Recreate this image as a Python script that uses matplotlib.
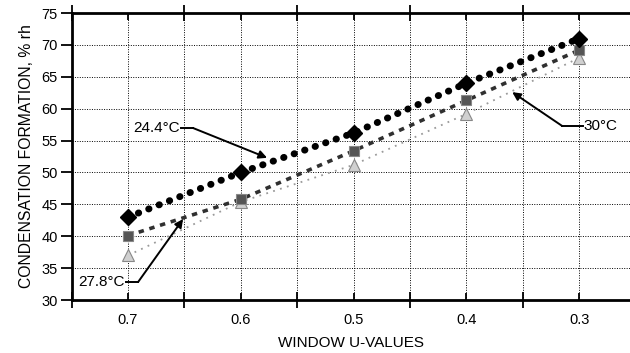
import matplotlib
matplotlib.use("Agg")
import matplotlib.pyplot as plt
import numpy as np

plt.rcParams['font.family'] = ['Liberation Sans', 'DejaVu Sans']

categories = ["0.7", "0.6", "0.5", "0.4", "0.3"]
s_244 = [43, 50, 56.2, 64, 71]
s_278 = [40.1, 45.8, 53.4, 61.3, 69.2]
s_30 = [37, 45.4, 51.2, 59.2, 68]
y_ticks = [30, 35, 40, 45, 50, 55, 60, 65, 70, 75]

fig = plt.figure(figsize=(6.3, 3.53), dpi=100)
ax = fig.add_axes([0.1137, 0.150, 0.8863, 0.813])

x = np.arange(len(categories))

# grid
for xv in np.arange(-0.5, len(categories), 0.5):
    ax.axvline(xv, color='black', lw=0.7, ls=(0, (1, 1.5)), zorder=0)
for yv in y_ticks[1:-1]:
    ax.axhline(yv, color='black', lw=0.7, ls=(0, (1, 1.5)), zorder=0)

# series
ax.plot(x, s_30, color='#9a9a9a', lw=1.3, ls=(0, (1, 3)), zorder=2)
ax.plot(x, s_30, ls='none', marker='^', ms=8, mfc='#d0d0d0', mec='#888888', mew=0.8, zorder=3)

ax.plot(x, s_278, color='#303030', lw=2.6, ls=(0, (1.5, 1.6)), zorder=4)
ax.plot(x, s_278, ls='none', marker='s', ms=7, mfc='#555555', mec='#888888', mew=0.8, zorder=5)

l1, = ax.plot(x, s_244, color='black', lw=5, ls=(0, (0.05, 1.55)), zorder=6)
l1.set_dash_capstyle('round')
ax.plot(x, s_244, ls='none', marker='D', ms=8.5, mfc='black', mec='black', zorder=7)

ax.set_xlim(-0.5, 4.45)
ax.set_ylim(30, 75)
ax.set_yticks(y_ticks)
ax.set_xticks(x)
ax.set_xticklabels(categories)
ax.set_xticks(np.arange(-0.5, 4.5, 1.0), minor=True)

ax.tick_params(axis='y', direction='out', length=8, width=1.3, labelsize=10.5, pad=2)
ax.tick_params(axis='x', which='major', direction='in', length=5, width=1.3, labelsize=10.5, pad=9,
               top=True)
ax.tick_params(axis='x', which='minor', direction='inout', length=12, width=1.3, top=True)

for side in ['left', 'bottom', 'top']:
    ax.spines[side].set_linewidth(2)
ax.spines['right'].set_visible(False)

ax.set_xlabel('WINDOW U-VALUES', fontsize=11, labelpad=7)
ax.set_ylabel('CONDENSATION FORMATION, % rh', fontsize=11.3, labelpad=5)

# annotations
arrow = dict(arrowstyle='-|>', color='black', lw=1.4, mutation_scale=12,
             shrinkA=0, shrinkB=0)

ax.text(0.463, 56.97, '24.4°C', ha='right', va='center', fontsize=11)
ax.plot([0.47, 0.577], [56.97, 56.97], color='black', lw=1.4)
ax.annotate('', xy=(1.233, 52.3), xytext=(0.577, 56.97), arrowprops=arrow)

ax.text(4.036, 57.28, '30°C', ha='left', va='center', fontsize=11)
ax.plot([4.03, 3.85], [57.28, 57.28], color='black', lw=1.4)
ax.annotate('', xy=(3.406, 62.6), xytext=(3.85, 57.28), arrowprops=arrow)

ax.text(-0.026, 32.82, '27.8°C', ha='right', va='center', fontsize=11)
ax.plot([-0.02, 0.089], [32.82, 32.82], color='black', lw=1.4)
ax.annotate('', xy=(0.488, 42.7), xytext=(0.089, 32.82), arrowprops=arrow)

fig.savefig('out.png', dpi=100)
